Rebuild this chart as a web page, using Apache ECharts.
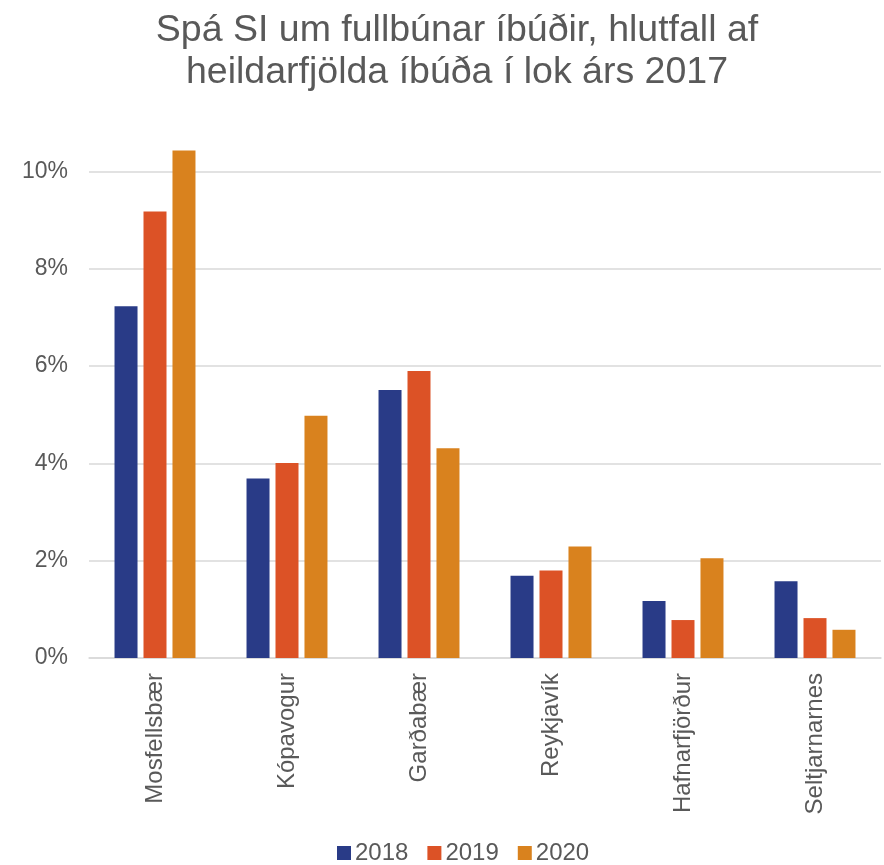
<!DOCTYPE html>
<html>
	<head>
		<meta charset="utf-8">
		<title>Spá SI um fullbúnar íbúðir</title>
		<script src="https://cdn.jsdelivr.net/npm/echarts@6/dist/echarts.min.js"></script>
		<style>
			html, body { margin: 0; padding: 0; background: #fff; }
			#chart { width: 884px; height: 865px; }
		</style>
	</head>
	<body>
		<div id="chart"></div>
		<script>
			// sveitarfélög og gildi (% af heildarfjölda íbúða)
			var categories = ['Mosfellsbær', 'Kópavogur', 'Garðabær', 'Reykjavík', 'Hafnarfjörður', 'Seltjarnarnes'];
			var years = ['2018', '2019', '2020'];
			var values2018 = [7.23, 3.69, 5.51, 1.69, 1.17, 1.58];
			var values2019 = [9.18, 4.01, 5.90, 1.80, 0.78, 0.82];
			var values2020 = [10.43, 4.98, 4.31, 2.29, 2.05, 0.58];
			var colors = ['#293b87', '#dc5226', '#d9821e'];

			var chart = echarts.init(document.getElementById('chart'));
			var font = 'Liberation Sans, Arial, sans-serif';

			var seriesData = [values2018, values2019, values2020];
			var series = [];
			for (var i = 0; i < years.length; i++) {
				series.push({
					name: years[i],
					type: 'bar',
					data: seriesData[i],
					barWidth: 23,
					barGap: '26%',
					clip: false,
					itemStyle: { color: colors[i] }
				});
			}

			var option = {
				animation: false,
				title: {
					text: 'Spá SI um fullbúnar íbúðir, hlutfall af\nheildarfjölda íbúða í lok árs 2017',
					left: 452,
					top: 5,
					textAlign: 'center',
					textStyle: {
						fontFamily: font,
						fontSize: 37.5,
						fontWeight: 'normal',
						color: '#595959',
						lineHeight: 42
					}
				},
				legend: {
					data: years,
					top: 836,
					left: 332,
					icon: 'rect',
					itemWidth: 14,
					itemHeight: 14,
					itemGap: 19,
					textStyle: { fontFamily: font, fontSize: 24, color: '#595959', padding: [0, 0, 0, -1] }
				},
				grid: {
					left: 89,
					right: 3,
					top: 171.5,
					bottom: 207
				},
				xAxis: {
					type: 'category',
					data: categories,
					axisLine: { lineStyle: { color: '#d9d9d9', width: 1.5 } },
					axisTick: { show: false },
					axisLabel: {
						rotate: 90,
						margin: 15,
						fontFamily: font,
						fontSize: 24,
						color: '#595959'
					}
				},
				yAxis: {
					type: 'value',
					min: 0,
					max: 10,
					interval: 2,
					axisLine: { show: false },
					axisTick: { show: false },
					splitLine: { lineStyle: { color: '#d9d9d9', width: 1.5 } },
					axisLabel: {
						formatter: '{value}%',
						margin: 21,
						fontFamily: font,
						fontSize: 23,
						color: '#595959'
					}
				},
				series: series
			};

			chart.setOption(option);
		</script>
	</body>
</html>
